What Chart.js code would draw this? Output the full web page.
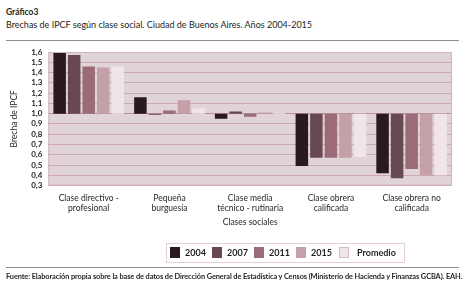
<!DOCTYPE html>
<html>
<head>
<meta charset="utf-8">
<script src="https://cdn.jsdelivr.net/npm/chart.js@4"></script>
<style>
  html, body { margin: 0; padding: 0; background: #fff; }
  body { width: 466px; height: 296px; position: relative; overflow: hidden; font-family: "Lato", sans-serif; color: #231f20; }
  #wrap { position: absolute; left: 0; top: 0; width: 466px; height: 296px; }
  .t1 { position: absolute; left: 6px; top: 7px; font-size: 8.5px; font-weight: bold; }
  .t2 { position: absolute; left: 6px; top: 19px; font-size: 9px; }
  .rule { position: absolute; left: 6px; width: 453px; height: 1px; background: #8c8c8c; }
  .src { position: absolute; left: 6px; top: 272px; font-size: 7.4px; font-weight: bold; white-space: nowrap; letter-spacing: -0.1px; }
</style>
</head>
<body>
<div class="t1">Gráfico3</div>
<div class="t2">Brechas de IPCF según clase social. Ciudad de Buenos Aires. Años 2004-2015</div>
<div class="rule" style="top:40px"></div>
<div id="wrap"><canvas id="brechaChart" width="466" height="296"></canvas></div>
<div class="rule" style="top:267px"></div>
<div class="src">Fuente: Elaboración propia sobre la base de datos de Dirección General de Estadística y Censos (Ministerio de Hacienda y Finanzas GCBA). EAH.</div>

<script>
// categorias (eje x)
const clases = [
  ["Clase directivo -", "profesional"],
  ["Pequeña", "burguesía"],
  ["Clase media", "técnico - rutinaria"],
  ["Clase obrera", "calificada"],
  ["Clase obrera no", "calificada"],
];

// brecha de IPCF por año (base = 1)
const brecha2004 = [1.60, 1.16, 0.95, 0.49, 0.42];
const brecha2007 = [1.57, 0.99, 1.02, 0.57, 0.37];
const brecha2011 = [1.46, 1.03, 0.97, 0.57, 0.46];
const brecha2015 = [1.45, 1.13, 1.01, 0.57, 0.40];
const promedio   = [1.46, 1.05, 1.005, 0.58, 0.40];

const serieLabels = ["2004", "2007", "2011", "2015", "Promedio"];
const serieColors = ["#2a191e", "#684852", "#9c6b78", "#c4a0a9", "#f0e5e8"];

const BASE = 1.0;
const yTickLabels = ["0,3", "0,4", "0,5", "0,6", "0,7", "0,8", "0,9", "1,0", "1,1", "1,2", "1,3", "1,4", "1,5", "1,6"];

const FONT = "Lato, sans-serif";

const series = [brecha2004, brecha2007, brecha2011, brecha2015, promedio];
const datasets = series.map((vals, i) => ({
  label: serieLabels[i],
  data: vals.map((v) => [BASE, v]),
  backgroundColor: serieColors[i],
  borderWidth: 0,
  categoryPercentage: 0.9,
  barPercentage: 0.86,
}));

// fondo del area de grafico
const plotBg = {
  id: "plotBg",
  beforeDraw(chart) {
    const { ctx, chartArea: a } = chart;
    ctx.save();
    ctx.fillStyle = "#e1d4d8";
    ctx.fillRect(a.left, a.top, a.right - a.left, a.bottom - a.top);
    ctx.restore();
  },
  afterDraw(chart) {
    const { ctx, chartArea: a } = chart;
    ctx.save();
    ctx.strokeStyle = "#d4b3bd";
    ctx.lineWidth = 1;
    ctx.strokeRect(a.left + 0.5, a.top + 0.5, a.right - a.left - 1, a.bottom - a.top - 1);
    ctx.restore();
  },
};

// leyenda en recuadro, como en el original
const boxLegend = {
  id: "boxLegend",
  afterDraw(chart) {
    const ctx = chart.ctx;
    const x0 = 166, y0 = 243, w = 238, h = 19;
    const offsets = [4, 46, 88, 130, 173];
    ctx.save();
    ctx.strokeStyle = "#e3cfd5";
    ctx.lineWidth = 1;
    ctx.strokeRect(x0 + 0.5, y0 + 0.5, w, h);
    ctx.font = "bold 9px " + FONT;
    ctx.textBaseline = "middle";
    chart.data.datasets.forEach((ds, i) => {
      const sx = x0 + offsets[i];
      ctx.fillStyle = ds.backgroundColor;
      ctx.fillRect(sx, y0 + 4, 10, 11);
      if (i === 4) {
        ctx.strokeStyle = "#d9bcc5";
        ctx.strokeRect(sx + 0.5, y0 + 4.5, 9, 10);
      }
      ctx.fillStyle = "#231f20";
      ctx.fillText(ds.label, sx + (i === 4 ? 18 : 15), y0 + 10);
    });
    ctx.restore();
  },
};

new Chart(document.getElementById("brechaChart"), {
  type: "bar",
  data: { labels: clases, datasets: datasets },
  plugins: [plotBg, boxLegend],
  options: {
    responsive: false,
    animation: false,
    layout: { padding: { left: 9, right: 14, top: 52, bottom: 69 } },
    plugins: {
      legend: { display: false },
      tooltip: { enabled: false },
    },
    scales: {
      x: {
        grid: { display: false, drawTicks: false },
        border: { display: false },
        ticks: {
          color: "#231f20",
          padding: 7,
          maxRotation: 0,
          autoSkip: false,
          font: { family: FONT, size: 8.5, lineHeight: 1.25 },
        },
        title: {
          display: true,
          text: "Clases sociales",
          color: "#231f20",
          padding: { top: -4, bottom: 0 },
          font: { family: FONT, size: 8.5 },
        },
      },
      y: {
        min: 0.3,
        max: 1.6,
        border: { display: false },
        grid: {
          drawTicks: false,
          lineWidth: 1,
          color: (c) => (Math.abs(c.tick.value - BASE) < 1e-6 ? "#b8909c" : "#cda9b3"),
        },
        ticks: {
          stepSize: 0.1,
          autoSkip: false,
          padding: 6,
          color: "#231f20",
          font: { family: FONT, size: 8, weight: "bold" },
          callback: (v, i) => yTickLabels[i],
        },
        title: {
          display: true,
          text: "Brecha de IPCF",
          color: "#231f20",
          padding: { top: 0, bottom: 6 },
          font: { family: FONT, size: 8.5 },
        },
      },
    },
  },
});
</script>
</body>
</html>
